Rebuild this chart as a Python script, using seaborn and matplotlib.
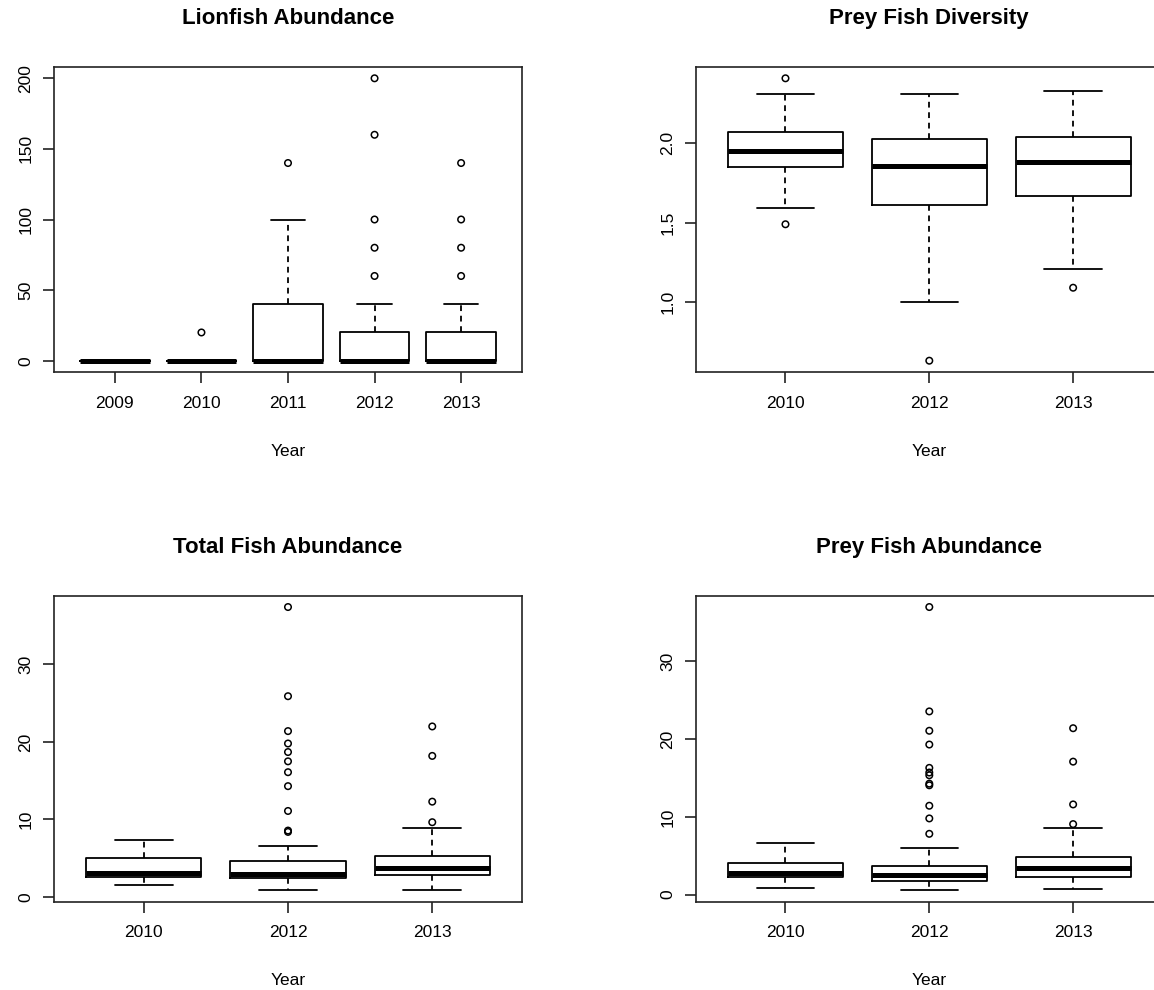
import matplotlib
matplotlib.use("Agg")
import matplotlib.pyplot as plt
import numpy as np
import pandas as pd
import seaborn as sns

# ---- Lionfish abundance (per survey) ----
lion_years = ["2009", "2010", "2011", "2012", "2013"]
lion_whislo = [0, 0, 0, 0, 0]
lion_q1 = [0, 0, 0, 0, 0]
lion_med = [0, 0, 0, 0, 0]
lion_q3 = [0, 0, 40, 20, 20]
lion_whishi = [0, 0, 100, 40, 40]
lion_out = [[], [20], [140], [60, 80, 100, 160, 200], [60, 80, 100, 140]]

# ---- Prey fish diversity ----
div_years = ["2010", "2012", "2013"]
div_whislo = [1.59, 1.00, 1.21]
div_q1 = [1.85, 1.61, 1.67]
div_med = [1.95, 1.86, 1.88]
div_q3 = [2.07, 2.03, 2.04]
div_whishi = [2.31, 2.31, 2.33]
div_out = [[2.41, 1.49], [0.63], [1.09]]

# ---- Total fish abundance ----
tot_years = ["2010", "2012", "2013"]
tot_whislo = [1.55, 0.86, 0.86]
tot_q1 = [2.62, 2.50, 2.84]
tot_med = [3.14, 3.01, 3.75]
tot_q3 = [5.00, 4.61, 5.34]
tot_whishi = [7.32, 6.59, 8.91]
tot_out = [[], [8.40, 8.57, 11.1, 14.3, 16.1, 17.5, 18.7, 19.8, 21.4, 25.9, 37.4],
           [9.65, 12.3, 18.2, 22.0]]

# ---- Prey fish abundance ----
prey_years = ["2010", "2012", "2013"]
prey_whislo = [0.90, 0.55, 0.68]
prey_q1 = [2.27, 1.76, 2.27]
prey_med = [2.79, 2.49, 3.39]
prey_q3 = [4.08, 3.74, 4.81]
prey_whishi = [6.62, 6.06, 8.55]
prey_out = [[], [7.82, 9.80, 11.43, 14.06, 14.27, 15.35, 15.70, 16.30, 19.30, 21.07, 23.56, 36.98],
            [9.07, 11.6, 17.1, 21.4]]

sns.set_theme(style="white", rc={
    "axes.edgecolor": "#222222",
    "axes.linewidth": 1.2,
    "xtick.bottom": True,
    "ytick.left": True,
    "xtick.color": "#222222",
    "ytick.color": "#222222",
    "xtick.major.size": 8,
    "ytick.major.size": 8,
    "xtick.major.width": 1.2,
    "ytick.major.width": 1.2,
    "text.color": "black",
})
plt.rcParams["font.family"] = ["Liberation Sans", "DejaVu Sans"]

W, H = 1154, 990
fig = plt.figure(figsize=(W / 100, H / 100), dpi=100)


def add_axes_px(left, top, right, bottom):
    return fig.add_axes([left / W, 1 - bottom / H, (right - left) / W, (bottom - top) / H])


def draw_panel(ax, title, years, whislo, q1, med, q3, whishi, outliers, yticks, ytick_fmt):
    stats = []
    for i, yr in enumerate(years):
        stats.append(dict(label=yr, whislo=whislo[i], q1=q1[i], med=med[i],
                          q3=q3[i], whishi=whishi[i], fliers=[]))
    pos = np.arange(len(years))
    ax.bxp(stats, positions=pos, widths=0.8, capwidths=0.4, showfliers=False,
           boxprops=dict(color="black", linewidth=1.3),
           whiskerprops=dict(color="black", linewidth=1.3, linestyle=(0, (3.2, 2.6))),
           capprops=dict(color="black", linewidth=1.3),
           medianprops=dict(color="black", linewidth=3.6, solid_capstyle="butt"))

    flier_df = pd.DataFrame(
        [(i, v) for i, vals in enumerate(outliers) for v in vals], columns=["pos", "value"]
    )
    if len(flier_df):
        sns.scatterplot(data=flier_df, x="pos", y="value", ax=ax, marker="o", s=22,
                        facecolor="none", edgecolor="black", linewidth=1.1, zorder=5,
                        legend=False)

    n = len(years)
    ax.set_xlim(-0.5 - 0.04 * n, n - 0.5 + 0.04 * n)
    allv = list(whislo) + list(whishi) + [v for vals in outliers for v in vals]
    lo, hi = min(allv), max(allv)
    pad = 0.04 * (hi - lo)
    ax.set_ylim(lo - pad, hi + pad)

    ax.set_xticks(pos)
    ax.set_xticklabels(years, fontsize=12.5, color="black")
    ax.set_yticks(yticks)
    ax.set_yticklabels([ytick_fmt.format(t) for t in yticks], fontsize=12.5,
                       rotation=90, va="center", color="black")
    ax.tick_params(axis="x", pad=9)
    ax.tick_params(axis="y", pad=7)
    ax.set_xlabel("Year", fontsize=12.5, color="black")
    ax.xaxis.label.set_va("center")
    ax.xaxis.set_label_coords(0.5, -79 / 305)
    ax.set_ylabel("")
    ax.set_title(title, fontsize=16, fontweight="bold", color="black",
                 pad=0, y=1 + 48.5 / 305, va="center")
    for s in ax.spines.values():
        s.set_visible(True)


ax1 = add_axes_px(54.3, 67, 521.7, 372)
ax2 = add_axes_px(696.3, 67, 1162.3, 372)
ax3 = add_axes_px(54.3, 595.7, 521.7, 901.7)
ax4 = add_axes_px(696.3, 595.7, 1162.3, 901.7)

draw_panel(ax1, "Lionfish Abundance", lion_years, lion_whislo, lion_q1, lion_med,
           lion_q3, lion_whishi, lion_out, [0, 50, 100, 150, 200], "{:d}")
draw_panel(ax2, "Prey Fish Diversity", div_years, div_whislo, div_q1, div_med,
           div_q3, div_whishi, div_out, [1.0, 1.5, 2.0], "{:.1f}")
draw_panel(ax3, "Total Fish Abundance", tot_years, tot_whislo, tot_q1, tot_med,
           tot_q3, tot_whishi, tot_out, [0, 10, 20, 30], "{:d}")
draw_panel(ax4, "Prey Fish Abundance", prey_years, prey_whislo, prey_q1, prey_med,
           prey_q3, prey_whishi, prey_out, [0, 10, 20, 30], "{:d}")

fig.savefig("out.png", dpi=100, facecolor="white")
